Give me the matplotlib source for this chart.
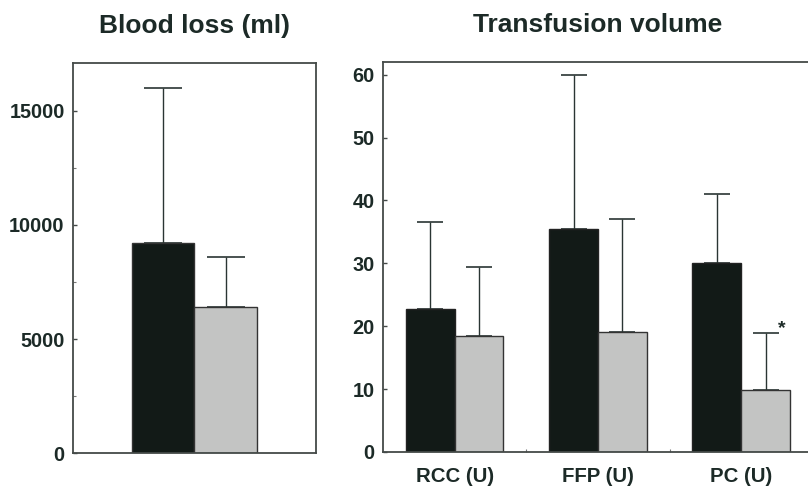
import numpy as np
import matplotlib.pyplot as plt
from matplotlib.ticker import MultipleLocator, FixedLocator

plt.rcParams['font.family'] = ['Liberation Sans', 'DejaVu Sans']
plt.rcParams['font.weight'] = 'bold'

# blood loss (ml): group 1 (black), group 2 (gray)
loss_mean = [9200, 6400]
loss_sd = [6800, 2200]

# transfusion volume (U)
cats = ["RCC (U)", "FFP (U)", "PC (U)"]
vol_black = [22.7, 35.5, 30.0]
vol_black_sd = [13.8, 24.5, 11.1]
vol_gray = [18.5, 19.0, 9.8]
vol_gray_sd = [10.9, 18.0, 9.1]

black = '#121a17'
gray = '#c3c4c3'
ink = '#2a3533'
textc = '#1c2a27'

fig = plt.figure(figsize=(8.08, 4.88), dpi=100)
ax1 = fig.add_axes([0.0903, 0.0717, 0.3007, 0.799])
ax2 = fig.add_axes([0.474, 0.0738, 0.532, 0.799])

for ax in (ax1, ax2):
    for s in ax.spines.values():
        s.set_color('#444a48')
        s.set_linewidth(1.3)
    ax.tick_params(direction='in', length=3, width=1, colors='#444a48',
                   labelcolor=textc, labelsize=14.3, pad=6)
    ax.tick_params(which='minor', direction='in', length=2, width=0.8, colors='#777')
    ax.set_facecolor('white')

# left panel
xl = [-0.5, 0.5]
ax1.bar(xl, loss_mean, width=1.0, color=[black, gray], edgecolor='#333',
        linewidth=1.0, zorder=2)
ax1.errorbar(xl, loss_mean, yerr=[[0, 0], loss_sd], fmt='none', ecolor=ink,
             elinewidth=1.0, capsize=14, capthick=1.2, zorder=1)
ax1.set_xlim(-1.93, 1.93)
ax1.set_ylim(0, 17100)
ax1.set_yticks([0, 5000, 10000, 15000])
ax1.yaxis.set_minor_locator(MultipleLocator(2500))
ax1.set_xticks([])
ax1.set_title("Blood loss (ml)", fontsize=19, fontweight='bold', color=textc, pad=22)

# right panel
x = np.arange(len(cats))
w = 0.34
ax2.bar(x - w / 2, vol_black, width=w, color=black, edgecolor='#222',
        linewidth=1.0, zorder=2)
ax2.bar(x + w / 2, vol_gray, width=w, color=gray, edgecolor='#333',
        linewidth=1.0, zorder=2)
ax2.errorbar(x - w / 2, vol_black, yerr=[np.zeros(3), vol_black_sd], fmt='none',
             ecolor=ink, elinewidth=1.0, capsize=9.7, capthick=1.2, zorder=1)
ax2.errorbar(x + w / 2, vol_gray, yerr=[np.zeros(3), vol_gray_sd], fmt='none',
             ecolor=ink, elinewidth=1.0, capsize=9.7, capthick=1.2, zorder=1)
ax2.annotate("*", (x[2] + w / 2, vol_gray[2] + vol_gray_sd[2]),
             textcoords='offset points', xytext=(12, 0), ha='center',
             fontsize=14, fontweight='bold', color=textc)
ax2.set_xlim(-0.5, 2.5)
ax2.set_ylim(0, 62)
ax2.set_yticks([0, 10, 20, 30, 40, 50, 60])
ax2.set_xticks(x)
ax2.set_xticklabels(cats, fontsize=14.7, fontweight='bold', color=textc)
ax2.tick_params(axis='x', length=0, pad=11)
ax2.xaxis.set_minor_locator(FixedLocator([0.5, 1.5]))
ax2.set_title("Transfusion volume", fontsize=19, fontweight='bold', color=textc, pad=22)

fig.savefig("out.png", dpi=100)
